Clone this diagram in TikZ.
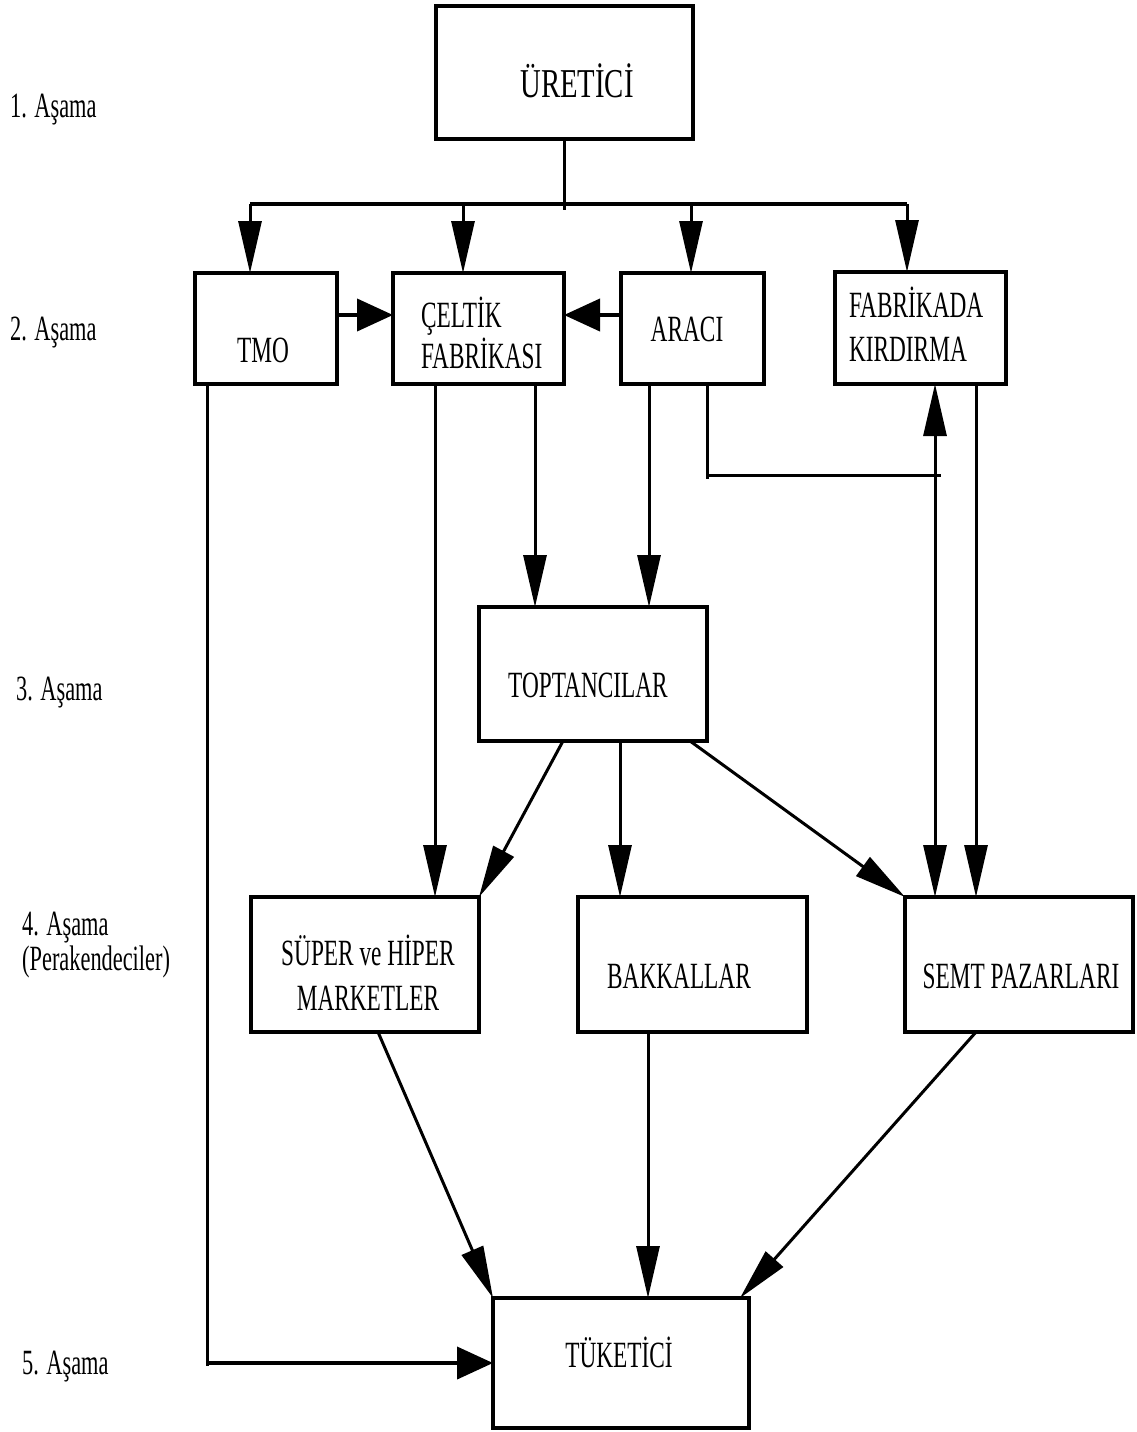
\documentclass[tikz,border=0pt]{standalone}
\usepackage{fontspec}
\setmainfont{Liberation Serif}[FakeStretch=0.63]
\newfontfamily\widerserif{Liberation Serif}[FakeStretch=0.7]
\usetikzlibrary{arrows.meta,calc}
\begin{document}
\begin{tikzpicture}[x=1pt,y=-1pt,
  box/.style={draw, line width=3.5pt, rectangle, inner sep=0pt, outer sep=0pt},
  txt/.style={inner sep=0pt, outer sep=0pt, font=\fontsize{37}{35}\selectfont},
  lbl/.style={inner sep=0pt, anchor=base west, font=\fontsize{35.5}{35}\selectfont},
  conn/.style={line width=3pt},
  thick conn/.style={line width=4pt},
  vtip/.tip={Triangle[length=52pt,width=23pt]},
  htip/.tip={Triangle[length=36pt,width=32pt]},
  vt/.style={conn, -vtip},
  ht/.style={thick conn, -htip},
]
\useasboundingbox (0,0) rectangle (1137,1432);

% boxes
\node[box, minimum width=257pt, minimum height=133pt] (ure) at (564.5,72.5) {};
\node[box, minimum width=142pt, minimum height=111pt] (tmo) at (266,328.5) {};
\node[box, minimum width=171pt, minimum height=111pt] (cel) at (478.5,328.5) {};
\node[box, minimum width=143pt, minimum height=111pt] (ara) at (692.5,328.5) {};
\node[box, minimum width=171pt, minimum height=112pt] (fab) at (920.5,328) {};
\node[box, minimum width=228pt, minimum height=134pt] (top) at (593,674) {};
\node[box, minimum width=228pt, minimum height=135pt] (sup) at (365,964.5) {};
\node[box, minimum width=229pt, minimum height=135pt] (bak) at (692.5,964.5) {};
\node[box, minimum width=228pt, minimum height=135pt] (sem) at (1019,964.5) {};
\node[box, minimum width=256pt, minimum height=130pt] (tuk) at (621,1363) {};

% box texts
\node[txt, anchor=base, font=\widerserif\fontsize{41}{41}\selectfont] (ureT) at (577,97) {ÜRETİCİ};
\node[txt, anchor=base] (tmoT) at (263,362) {TMO};
\node[txt, anchor=base west] (celT) at (421,327) {\begin{tabular}[t]{@{}l@{}}ÇELTİK\\FABRİKASI\end{tabular}};
\node[txt, anchor=base] (araT) at (687,341) {ARACI};
\node[txt, anchor=base west, font=\fontsize{37}{44}\selectfont] (fabT) at (849,317) {\begin{tabular}[t]{@{}l@{}}FABRİKADA\\KIRDIRMA\end{tabular}};
\node[txt, anchor=base] (topT) at (588,697) {TOPTANCILAR};
\node[txt, anchor=base, font=\fontsize{37}{45}\selectfont] (supT) at (368,965) {\begin{tabular}[t]{@{}c@{}}SÜPER ve HİPER\\MARKETLER\end{tabular}};
\node[txt, anchor=base] (bakT) at (679,988) {BAKKALLAR};
\node[txt, anchor=base] (semT) at (1021,988) {SEMT PAZARLARI};
\node[txt, anchor=base] (tukT) at (619,1367) {TÜKETİCİ};

% stage labels
\node[lbl] (l1) at (10,117) {1. Aşama};
\node[lbl] (l2) at (10,340) {2. Aşama};
\node[lbl] (l3) at (16,700) {3. Aşama};
\node[lbl] (l4) at (22,935) {\begin{tabular}[t]{@{}l@{}}4. Aşama\\(Perakendeciler)\end{tabular}};
\node[lbl] (l5) at (22,1374) {5. Aşama};

% helper coordinates
\coordinate (bL) at (250,204);
\coordinate (b2) at (463,204);
\coordinate (b3) at (691,204);
\coordinate (bR) at (907,204);
\coordinate (yA) at (0,315);
\coordinate (yB) at (0,475);
\coordinate (tX) at (207,0);
\coordinate (c1) at (435,0);
\coordinate (c2) at (535,0);
\coordinate (a1) at (649,0);
\coordinate (a2) at (707,0);
\coordinate (f1) at (935,0);
\coordinate (f2) at (976,0);
\coordinate (t1) at (563,0);
\coordinate (t2) at (620,0);
\coordinate (t3) at (690,0);
\coordinate (s1) at (378,0);
\coordinate (k1) at (648,0);
\coordinate (m1) at (976,0);

% producer distribution
\draw[conn] (ure.south) -- ++(0,71);
\draw[thick conn] (bL) -- (bR);
\draw[vt] (bL) -- (bL |- tmo.north);
\draw[vt] (b2) -- (b2 |- cel.north);
\draw[vt] (b3) -- (b3 |- ara.north);
\draw[vt] (bR) -- (bR |- fab.north);

% stage 2 links
\draw[ht] (tmo.east |- yA) -- (cel.west |- yA);
\draw[ht] (ara.west |- yA) -- (cel.east |- yA);

% TMO to consumer
\draw[conn] (tmo.south -| tX) -- ($(tX |- tuk.west)+(0,3)$);
\draw[ht] (tX |- tuk.west) -- (tuk.west);

% down to wholesalers / markets
\draw[vt] (cel.south -| c1) -- (c1 |- sup.north);
\draw[vt] (cel.south -| c2) -- (c2 |- top.north);
\draw[vt] (ara.south -| a1) -- (a1 |- top.north);
\draw[conn] (ara.south -| a2) -- ($(a2 |- yB)+(0,4)$);
\draw[conn] (a2 |- yB) -- ($(f1 |- yB)+(6,0)$);
\draw[conn, vtip-vtip] (f1 |- fab.south) -- (f1 |- sem.north);
\draw[vt] (fab.south -| f2) -- (f2 |- sem.north);

% from wholesalers
\draw[vt] (top.south -| t1) -- (sup.north east);
\draw[vt] (top.south -| t2) -- (t2 |- bak.north);
\draw[vt] (top.south -| t3) -- (sem.north west);

% to consumer
\draw[vt] (sup.south -| s1) -- (tuk.north west);
\draw[vt] (bak.south -| k1) -- (k1 |- tuk.north);
\draw[vt] (sem.south -| m1) -- ($(tuk.north east)+(-9,0)$);
\end{tikzpicture}
\end{document}
